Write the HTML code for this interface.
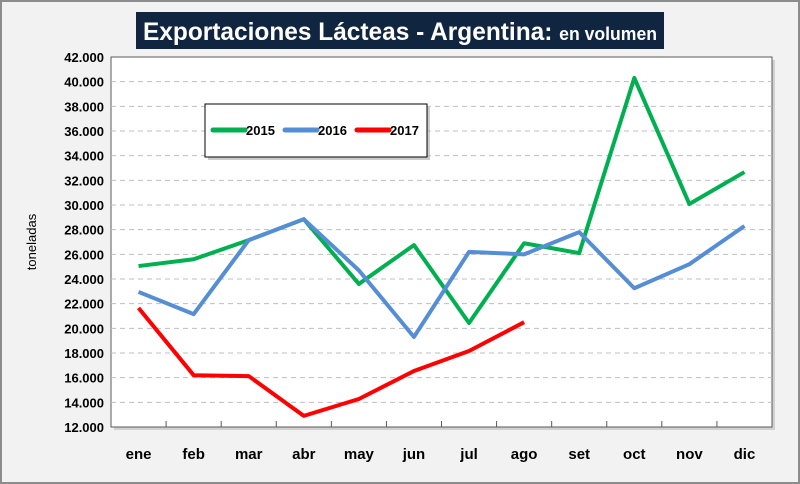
<!DOCTYPE html>
<html><head><meta charset="utf-8"><style>
body{margin:0;background:#fff}
svg{display:block;font-family:"Liberation Sans",sans-serif}
</style></head><body>
<svg id="c" width="800" height="484">
<rect x="1" y="1" width="798" height="482" fill="#f2f2f2" stroke="#8c8c8c" stroke-width="2"/>
<rect x="136" y="12" width="528" height="37" fill="#10253f"/>
<text x="143" y="40" fill="#fff" font-weight="bold" font-size="25" textLength="514" lengthAdjust="spacingAndGlyphs">Exportaciones Lácteas - Argentina: <tspan font-size="18">en volumen</tspan></text>
<rect x="114" y="60" width="661" height="370" fill="#bbb" opacity="0.6"/>
<rect x="111" y="57" width="661" height="370" fill="#fff" stroke="#595959" stroke-width="1"/>
<g id="grid"></g><g id="yt"></g><g id="xt"></g><g id="lines"></g>
<text transform="translate(36,242) rotate(-90)" text-anchor="middle" font-size="13">toneladas</text>
<rect x="208" y="107" width="222" height="53" fill="#aaa" opacity="0.6"/>
<rect x="205" y="104" width="222" height="53" fill="#fff" stroke="#000" stroke-width="1"/>
<g id="leg"></g>
</svg>
<script>
const categories=["ene","feb","mar","abr","may","jun","jul","ago","set","oct","nov","dic"];
const s2015=[25050,25600,27150,28850,23600,26750,20430,26900,26100,40300,30080,32670];
const s2016=[22950,21150,27150,28850,24700,19300,26200,26000,27800,23250,25200,28300];
const s2017=[21650,16200,16130,12900,14270,16540,18160,20500];
const yTicks=[12000,14000,16000,18000,20000,22000,24000,26000,28000,30000,32000,34000,36000,38000,40000,42000];
const seriesNames=["2015","2016","2017"];
const NS="http://www.w3.org/2000/svg";
const L=111,R=772,T=57,B=427,ymin=12000,ymax=42000;
const step=(R-L)/12;
const x=i=>L+step*(i+0.5);
const y=v=>B-(v-ymin)/(ymax-ymin)*(B-T);
function mk(tag,at,parent){const e=document.createElementNS(NS,tag);for(const k in at)e.setAttribute(k,at[k]);document.getElementById(parent).appendChild(e);return e;}
const fmt=v=>(v/1000).toFixed(3);
yTicks.forEach(v=>{
 if(v>ymin&&v<ymax){const g=mk("line",{x1:L,x2:R,y1:y(v),y2:y(v),stroke:"#bfbfbf","stroke-dasharray":"5,4"},"grid");
 
 }
 const t=mk("text",{x:104,y:y(v)+5,"text-anchor":"end","font-size":"13","font-weight":"bold"},"yt");
 t.textContent=fmt(v);
 
 
});
for(let i=0;i<=12;i++){const tk=mk("line",{x1:L+step*i,x2:L+step*i,y1:B,y2:B-6,stroke:"#595959"},"xt");
 
 }
categories.forEach((c,i)=>{const t=mk("text",{x:x(i),y:459,"text-anchor":"middle","font-size":"15","font-weight":"bold"},"xt");
 t.textContent=c;
 
 });
const data=[s2015,s2016,s2017],cols=["#00b050","#558ed5","#ff0000"];
data.forEach((s,k)=>{const p=mk("polyline",{points:s.map((v,i)=>x(i)+","+y(v)).join(" "),fill:"none",stroke:cols[k],"stroke-width":"4","stroke-linejoin":"round"},"lines");
 
 });
seriesNames.forEach((n,k)=>{const lx=213+k*72;
 const l=mk("line",{x1:lx,x2:lx+32,y1:130,y2:130,stroke:cols[k],"stroke-width":"5","stroke-linecap":"round"},"leg");
 
 
 const t=mk("text",{x:lx+33,y:135,"font-size":"13","font-weight":"bold"},"leg");
 t.textContent=n;
 
 });
</script>
</body></html>
